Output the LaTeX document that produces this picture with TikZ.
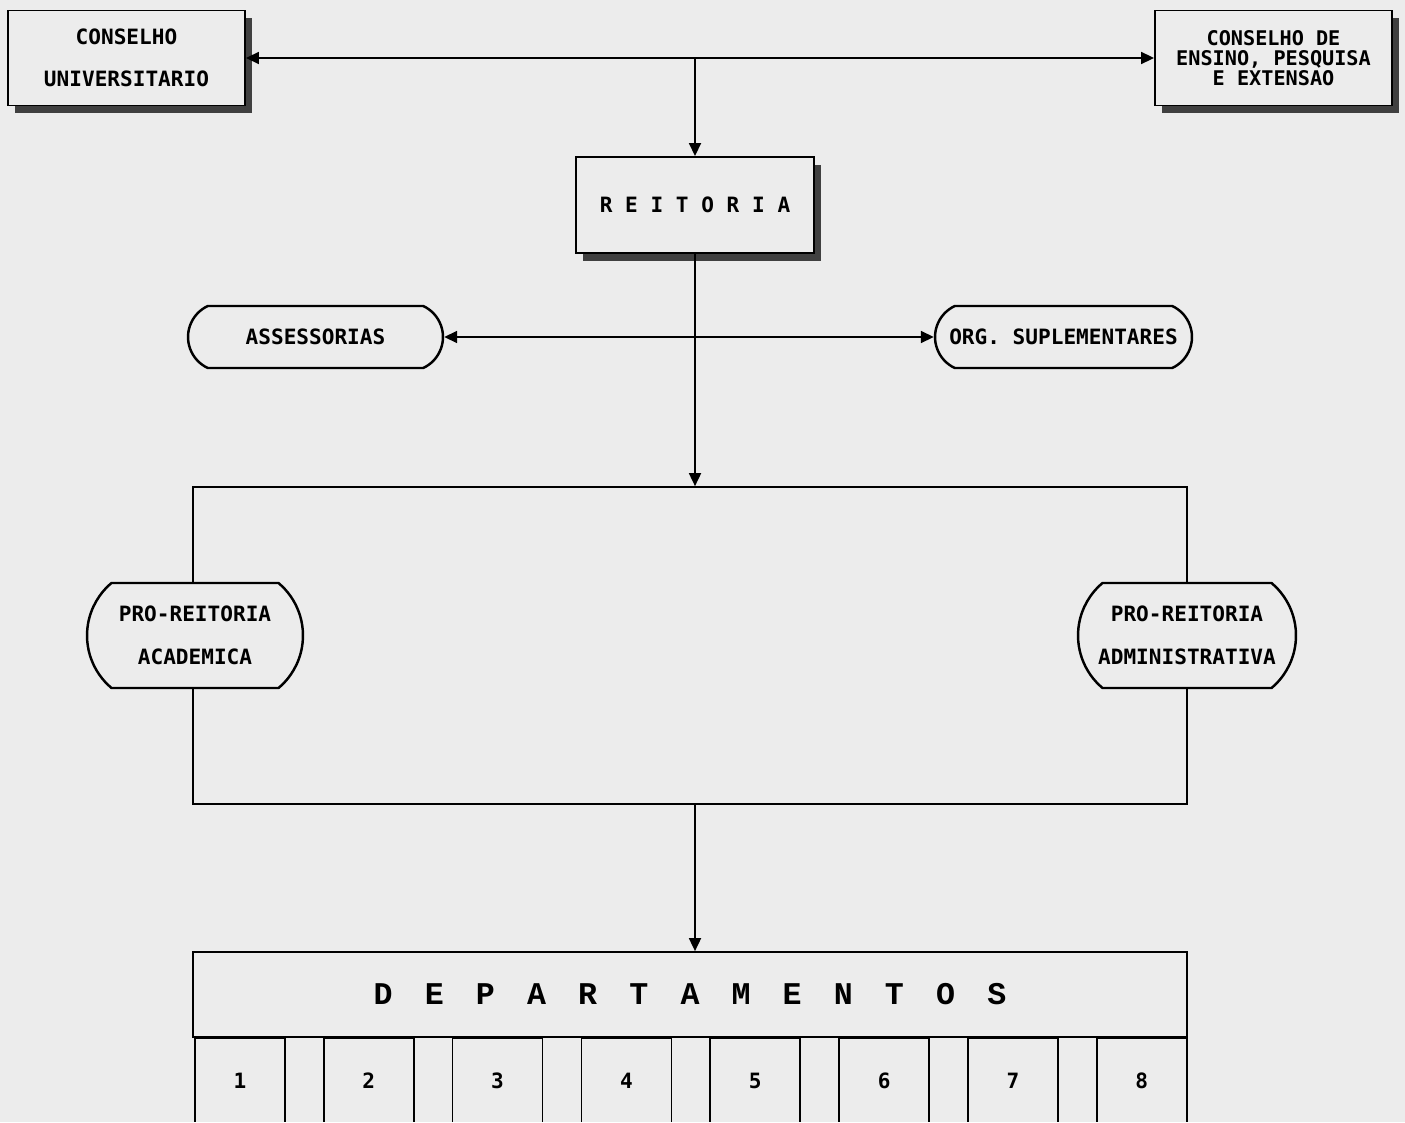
\documentclass[tikz,border=0pt]{standalone}
\usepackage{fontspec}
\setmonofont{DejaVu Sans Mono}
\newfontfamily\deptfont{Liberation Mono}
\usetikzlibrary{arrows.meta,shapes.misc,shadows}
\definecolor{paper}{RGB}{236,236,236}

\begin{document}
\begin{tikzpicture}[
  x=0.02cm,y=-0.02cm,
  font=\ttfamily\bfseries\fontsize{12}{14}\selectfont,
  board/.style={draw,line width=1.1pt,fill=paper,align=center,inner sep=0pt,
    drop shadow={shadow xshift=4pt,shadow yshift=-4.5pt,fill=black!75,opacity=1}},
  pill/.style={draw,rounded rectangle,line width=1.4pt,fill=paper,align=center,inner sep=0pt},
  frame/.style={draw,line width=1pt,inner sep=0pt},
  cell/.style={draw,line width=1pt,minimum width=1.8cm,minimum height=1.72cm,anchor=north west},
  flow/.style={-{Triangle[length=2.6mm,width=2.4mm]},line width=1pt},
  bi/.style={{Triangle[length=2.6mm,width=2.4mm]}-{Triangle[length=2.6mm,width=2.4mm]},line width=1pt}
]
\useasboundingbox (0,0) rectangle (1405,1122);
\fill[paper] (0,0) rectangle (1405,1122);
\clip (0,0) rectangle (1405,1121);

% councils and rectorate
\node[board,minimum width=4.74cm,minimum height=1.9cm,font=\ttfamily\bfseries\fontsize{12}{24}\selectfont] (cu) at (126.5,58) {CONSELHO\\UNIVERSITARIO};
\node[board,minimum width=4.74cm,minimum height=1.9cm,font=\ttfamily\bfseries\fontsize{11.5}{11.5}\selectfont] (cepe) at (1273.5,58) {CONSELHO DE\\ENSINO, PESQUISA\\E EXTENSAO};
\node[board,minimum width=4.76cm,minimum height=1.92cm] (reit) at (695,205) {R E I T O R I A};
\coordinate (top) at (reit.north |- cu.east);
\draw[bi] (cu.east) -- (cepe.west);
\draw[flow] (top) -- (reit.north);

\node[pill,minimum width=5.1cm,minimum height=1.24cm,rounded rectangle arc length=130] (ass) at (315.5,337) {ASSESSORIAS};
\node[pill,minimum width=5.14cm,minimum height=1.24cm,rounded rectangle arc length=130] (org) at (1063.5,337) {ORG. SUPLEMENTARES};
\draw[bi] (ass.east) -- (org.west);

% pro-rectorates
\node[frame,minimum width=19.88cm,minimum height=6.34cm] (pr) at (690,645.5) {};
\draw[flow] (reit.south) -- (reit.south |- pr.north);
\node[pill,minimum width=4.32cm,minimum height=2.1cm,rounded rectangle arc length=100,font=\ttfamily\bfseries\fontsize{12}{24.4}\selectfont] (pra) at (195,635.5) {PRO-REITORIA\\ACADEMICA};
\node[pill,minimum width=4.36cm,minimum height=2.1cm,rounded rectangle arc length=100,font=\ttfamily\bfseries\fontsize{12}{24.4}\selectfont] (prad) at (1187,635.5) {PRO-REITORIA\\ADMINISTRATIVA};

% departments
\node[frame,minimum width=19.88cm,minimum height=1.7cm,font=\deptfont\bfseries\fontsize{18}{20}\selectfont] (dept) at (690,994.5) {\spaceskip=18.3pt\relax D E P A R T A M E N T O S};
\draw[flow] (reit.south |- pr.south) -- (reit.south |- dept.north);
\foreach \i in {1,...,8}
  \node[cell] (c\i) at ({194+(\i-1)*128.85},1037) {\i};
\end{tikzpicture}
\end{document}
